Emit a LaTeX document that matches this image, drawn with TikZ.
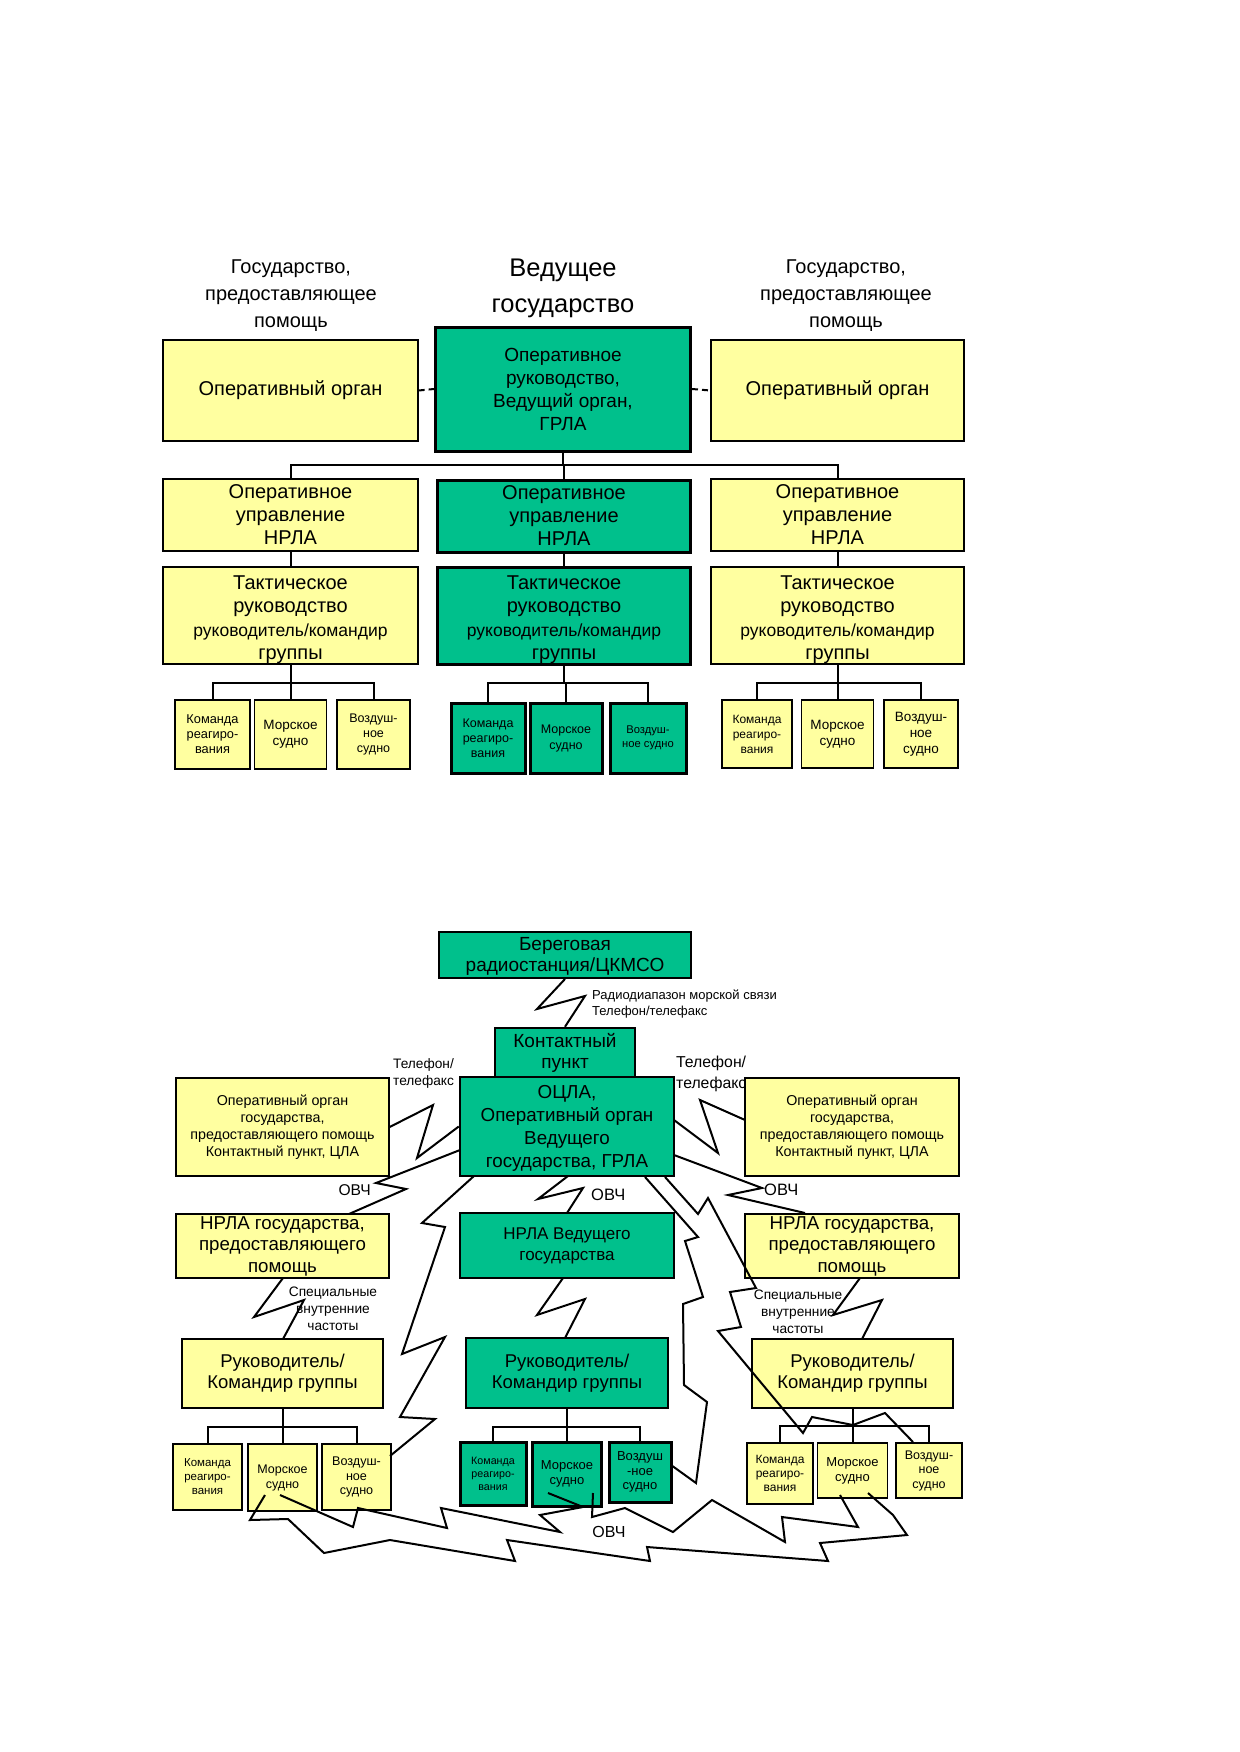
\documentclass[tikz,border=0pt]{standalone}
\usepackage{fontspec}
\setmainfont{Liberation Sans}
\definecolor{yel}{RGB}{255,255,160}
\definecolor{grn}{RGB}{0,192,140}
\newcommand\fsz[2]{\fontsize{#1}{#2}\selectfont}
\begin{document}
\begin{tikzpicture}[x=1pt,y=-1pt,
  ybox/.style={draw, line width=1.3pt, fill=yel, align=center, inner sep=0pt},
  gbox/.style={draw, line width=2.5pt, fill=grn, align=center, inner sep=0pt},
  gthick/.style={gbox, line width=3pt},
  lbl/.style={inner sep=0pt, align=center},
  conn/.style={line width=2pt},
  zig/.style={line width=2pt, line join=miter}]
\fill[white] (0,0) rectangle (1239,1752);
\useasboundingbox (0,0) rectangle (1239,1752);

% ===== upper diagram =====
\node[lbl, font=\fsz{20}{27}] (hdrL) at (291,296) {Государство,\\предоставляющее\\помощь};
\node[lbl, font=\fsz{25.5}{36}] (hdrC) at (563,288) {Ведущее\\государство};
\node[lbl, font=\fsz{20}{27}] (hdrR) at (846,296) {Государство,\\предоставляющее\\помощь};

\node[ybox, minimum width=255pt, minimum height=101pt, font=\fsz{20}{23}] (opL1) at (290.5,390.5) {Оперативный орган};
\node[gthick, minimum width=255pt, minimum height=124pt, font=\fsz{19}{23}] (opC1) at (563,389) {Оперативное\\руководство,\\Ведущий орган,\\ГРЛА};
\node[ybox, minimum width=253pt, minimum height=101pt, font=\fsz{20}{23}] (opR1) at (837.5,390.5) {Оперативный орган};
\draw[conn, dash pattern=on 6pt off 4pt] (opL1.east) -- (opC1.west);
\draw[conn, dash pattern=on 6pt off 4pt] (opC1.east) -- (opR1.west);

\node[ybox, minimum width=255pt, minimum height=72pt, font=\fsz{20}{23}] (r2L) at (290.5,515) {Оперативное\\управление\\НРЛА};
\node[gthick, minimum width=253pt, minimum height=72pt, font=\fsz{20}{23}] (r2C) at (564,516) {Оперативное\\управление\\НРЛА};
\node[ybox, minimum width=253pt, minimum height=72pt, font=\fsz{20}{23}] (r2R) at (837.5,515) {Оперативное\\управление\\НРЛА};
\coordinate (bus1) at (564,465);
\draw[conn] (opC1.south) -- (opC1.south |- bus1);
\draw[conn] (r2L.north) |- (bus1) -| (r2R.north);
\draw[conn] (r2C.north) -- (r2C.north |- bus1);

\node[ybox, minimum width=255pt, minimum height=97pt, font=\fsz{20}{23.5}] (r3L) at (290.5,615.5) {\rule{0pt}{22pt}Тактическое\\руководство\\\fsz{17.5}{22}руководитель/командир\\группы};
\node[gthick, minimum width=253pt, minimum height=97pt, font=\fsz{20}{23.5}] (r3C) at (564,615.5) {\rule{0pt}{22pt}Тактическое\\руководство\\\fsz{17.5}{22}руководитель/командир\\группы};
\node[ybox, minimum width=253pt, minimum height=97pt, font=\fsz{20}{23.5}] (r3R) at (837.5,615.5) {\rule{0pt}{22pt}Тактическое\\руководство\\\fsz{17.5}{22}руководитель/командир\\группы};
\draw[conn] (r2L.south) -- (r3L.north);
\draw[conn] (r2C.south) -- (r3C.north);
\draw[conn] (r2R.south) -- (r3R.north);

% small boxes, upper
\node[ybox, minimum width=75pt, minimum height=69pt, font=\fsz{12.8}{15}] (K1) at (212.5,734.5) {Команда\\реагиро-\\вания};
\node[ybox, minimum width=72pt, minimum height=69pt, font=\fsz{13.5}{16}] (M1) at (290.5,734.5) {Морское\\судно};
\node[ybox, minimum width=73pt, minimum height=69pt, font=\fsz{12.5}{15}] (V1) at (373.5,734.5) {Воздуш-\\ное\\судно};
\coordinate (sb1) at (290.5,683);
\draw[conn] (r3L.south) -- (M1.north);
\draw[conn] (K1.north) |- (sb1) -| (V1.north);

\node[gthick, minimum width=74pt, minimum height=70pt, font=\fsz{12.5}{15}] (K2) at (488,738) {Команда\\реагиро-\\вания};
\node[gthick, minimum width=72pt, minimum height=70pt, font=\fsz{12.5}{16}] (M2) at (566,738) {Морское\\судно};
\node[gthick, minimum width=76pt, minimum height=70pt, font=\fsz{11.2}{14}] (V2) at (648,738) {Воздуш-\\ное судно};
\coordinate (sb2) at (564,683);
\draw[conn] (r3C.south) -- (sb2);
\draw[conn] (K2.north) |- (sb2) -| (V2.north);
\draw[conn] (M2.north) -- (M2.north |- sb2);

\node[ybox, minimum width=70pt, minimum height=68pt, font=\fsz{12}{15}] (K3) at (757,734) {Команда\\реагиро-\\вания};
\node[ybox, minimum width=72pt, minimum height=68pt, font=\fsz{13.5}{16}] (M3) at (837.5,734) {Морское\\судно};
\node[ybox, minimum width=74pt, minimum height=68pt, font=\fsz{13.5}{16}] (V3) at (921,734) {Воздуш-\\ное\\судно};
\coordinate (sb3) at (837.5,683);
\draw[conn] (r3R.south) -- (M3.north);
\draw[conn] (K3.north) |- (sb3) -| (V3.north);

% ===== lower diagram =====
\node[gbox, line width=2pt, minimum width=252pt, minimum height=46pt, font=\fsz{19}{21}] (berth) at (565,955) {\rule{0pt}{16pt}Береговая\\радиостанция/ЦКМСО};
\node[gbox, minimum width=140pt, minimum height=49pt, font=\fsz{19}{21}] (kp) at (565,1052.5) {Контактный\\пункт};
\node[gbox, minimum width=214pt, minimum height=99pt, font=\fsz{18.8}{23}] (ocla) at (567,1126.5) {\rule{0pt}{17pt}ОЦЛА,\\Оперативный орган\\Ведущего\\государства, ГРЛА};
\node[ybox, minimum width=213pt, minimum height=98pt, font=\fsz{14.3}{17}] (opL2) at (282.5,1127) {Оперативный орган\\государства,\\предоставляющего помощь\\Контактный пункт, ЦЛА};
\node[ybox, minimum width=214pt, minimum height=98pt, font=\fsz{14.3}{17}] (opR2) at (852,1127) {Оперативный орган\\государства,\\предоставляющего помощь\\Контактный пункт, ЦЛА};

\node[lbl, anchor=west, align=left, font=\fsz{13}{16}] (radio) at (592,1004) {Радиодиапазон морской связи\\Телефон/телефакс};
\node[lbl, anchor=west, align=left, font=\fsz{13.7}{17}] (telL) at (393,1073) {Телефон/\\телефакс};
\node[lbl, anchor=west, align=left, font=\fsz{15.8}{21}] (telR) at (676,1074) {Телефон/\\телефакс};

\node[ybox, minimum width=213pt, minimum height=64pt, font=\fsz{18.7}{21.5}] (nrlaL) at (282.5,1246) {НРЛА государства,\\предоставляющего\\помощь};
\node[gbox, minimum width=214pt, minimum height=65pt, font=\fsz{17}{21}] (nrlaC) at (567,1245.5) {НРЛА Ведущего\\государства};
\node[ybox, minimum width=214pt, minimum height=64pt, font=\fsz{18.7}{21.5}] (nrlaR) at (852,1246) {НРЛА государства,\\предоставляющего\\помощь};

\node[lbl, anchor=east, font=\fsz{15.6}{18}] (ovL) at (371,1190) {ОВЧ};
\node[lbl, anchor=west, font=\fsz{16.5}{18}] (ovC) at (591,1195) {ОВЧ};
\node[lbl, anchor=west, font=\fsz{16.5}{18}] (ovR) at (764,1190) {ОВЧ};

\node[lbl, font=\fsz{13.7}{17}] (spL) at (333,1309) {Специальные\\внутренние\\частоты};
\node[lbl, font=\fsz{13.7}{17}] (spR) at (798,1312) {Специальные\\внутренние\\частоты};

\node[ybox, minimum width=201pt, minimum height=69pt, font=\fsz{18.5}{21}] (rukL) at (282.5,1373.5) {Руководитель/\\Командир группы};
\node[gbox, minimum width=202pt, minimum height=70pt, font=\fsz{18.5}{21}] (rukC) at (567,1373) {Руководитель/\\Командир группы};
\node[ybox, minimum width=201pt, minimum height=69pt, font=\fsz{18.5}{21}] (rukR) at (852.5,1373.5) {Руководитель/\\Командир группы};

% small boxes, lower
\node[ybox, minimum width=69pt, minimum height=66pt, font=\fsz{11.5}{14}] (K4) at (207.5,1477) {Команда\\реагиро-\\вания};
\node[ybox, minimum width=69pt, minimum height=67pt, font=\fsz{12.5}{15}] (M4) at (282.5,1477.5) {Морское\\судно};
\node[ybox, minimum width=69pt, minimum height=66pt, font=\fsz{12.6}{14.5}] (V4) at (356.5,1477) {Воздуш-\\ное\\судно};
\coordinate (sb4) at (282.5,1427);
\draw[conn] (rukL.south) -- (M4.north);
\draw[conn] (K4.north) |- (sb4) -| (V4.north);

\node[gthick, minimum width=66pt, minimum height=63pt, font=\fsz{10.7}{13}] (K5) at (493,1473.5) {Команда\\реагиро-\\вания};
\node[gthick, minimum width=69pt, minimum height=64pt, font=\fsz{13}{15}] (M5) at (567,1474) {Морское\\судно};
\node[gthick, minimum width=62pt, minimum height=60pt, font=\fsz{13}{14.5}] (V5) at (640,1472) {Воздуш\\-ное\\судно};
\coordinate (sb5) at (567,1427);
\draw[conn] (rukC.south) -- (M5.north);
\draw[conn] (K5.north) |- (sb5) -| (V5.north);

\node[ybox, minimum width=66pt, minimum height=61pt, font=\fsz{12}{14}] (K6) at (780,1473.5) {Команда\\реагиро-\\вания};
\node[ybox, minimum width=70pt, minimum height=55pt, font=\fsz{13}{15}] (M6) at (852.5,1470.5) {Морское\\судно};
\node[ybox, minimum width=66pt, minimum height=55pt, font=\fsz{12.5}{14.5}] (V6) at (929,1470.5) {Воздуш-\\ное\\судно};
\coordinate (sb6) at (852.5,1426);
\draw[conn] (rukR.south) -- (M6.north);
\draw[conn] (K6.north) |- (sb6) -| (V6.north);

% ===== lightning connectors =====
\draw[zig] (berth.south) -- (537,1009) -- (585,996) -- (kp.north);
\draw[zig] (opL2.east) -- (433,1105) -- (417,1158) -- (ocla.west);
\draw[zig] (674,1120) -- (718,1153) -- (700,1100) -- (745,1120);
\draw[zig] (460,1150) -- (376,1183) -- (406,1189) -- (349,1214);
\draw[zig] (568,1176) -- (538,1199) -- (583,1188) -- (567,1213);
\draw[zig] (674,1155) -- (762,1188) -- (728,1195) -- (805,1213);
\draw[zig] (283,1278) -- (254,1317) -- (304,1300) -- (283,1339);
\draw[zig] (563,1278) -- (537,1315) -- (585,1299) -- (565,1338);
\draw[zig] (860,1278) -- (833,1315) -- (882,1300) -- (862,1339);
% big left
\draw[zig] (474,1176) -- (422,1223) -- (445,1227) -- (402,1354) -- (445,1337) -- (400,1417) -- (435,1419) -- (390,1456);
% big right
\draw[zig] (645,1177) -- (698,1237) -- (685,1241) -- (703,1297) -- (683,1304) -- (684,1385) -- (707,1402) -- (696,1483) -- (671,1465);
\draw[zig] (665,1177) -- (698,1214) -- (708,1198) -- (756,1288) -- (730,1292) -- (741,1327) -- (718,1331) -- (803,1433) -- (812,1417) -- (853,1425) -- (885,1413) -- (913,1442);
% bottom
\draw[zig] (265,1495) -- (250,1520) -- (288,1519) -- (324,1553) -- (390,1540) -- (515,1561) -- (507,1540) -- (650,1561) -- (647,1547) -- (828,1561) -- (820,1543) -- (907,1535) -- (893,1515) -- (868,1493);
\draw[zig] (280,1495) -- (353,1527) -- (358,1508) -- (447,1528) -- (441,1508) -- (560,1532) -- (540,1515) -- (583,1507) -- (548,1493);
\draw[zig] (593,1493) -- (592,1517) -- (625,1508) -- (673,1532) -- (712,1500) -- (785,1542) -- (782,1517) -- (858,1527) -- (840,1495);
\node[lbl, font=\fsz{16}{18}] (ovB) at (609,1532) {ОВЧ};
\end{tikzpicture}
\end{document}
